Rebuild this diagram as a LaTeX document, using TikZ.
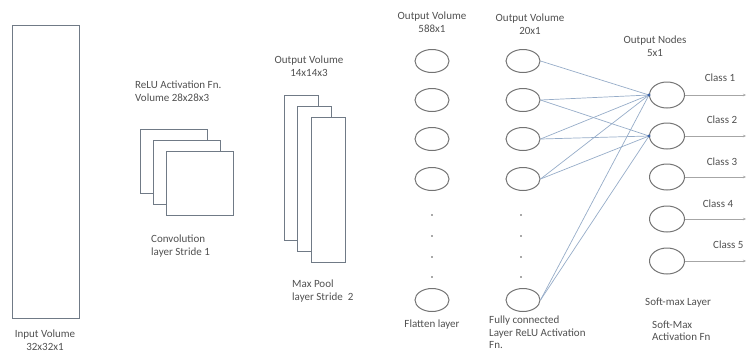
\documentclass[tikz,border=0pt]{standalone}
\usepackage{fontspec}
\setmainfont{Carlito}
\usetikzlibrary{shapes.geometric,arrows.meta}
\definecolor{edgegray}{RGB}{112,122,134}
\definecolor{wiregray}{RGB}{150,172,200}
\definecolor{dotblue}{RGB}{60,100,170}
\definecolor{txtgray}{RGB}{80,80,80}
\begin{document}
\begin{tikzpicture}[x=1pt,y=-1pt,
  lbl/.style={font=\fontsize{11}{12.5}\selectfont,text=txtgray,inner sep=0pt},
  sheet/.style={draw=edgegray,fill=white,line width=0.8pt},
  unit/.style={ellipse,draw=gray!90!black,line width=1pt,minimum width=34pt,minimum height=23pt,inner sep=0pt},
  wire/.style={draw=wiregray,line width=0.7pt}]
\useasboundingbox (0,0) rectangle (747,354);
% input volume
\draw[sheet] (12,25) rectangle (79,318);
% convolution stack
\foreach \i in {0,1,2}{\draw[sheet] (140+13*\i,129+11*\i) rectangle +(67,64);}
% max pool stack
\foreach \i in {0,1,2}{\draw[sheet] (284+13.5*\i,95+11*\i) rectangle +(34,145);}
% flatten and fully connected layers
\foreach \n/\y in {1/61,2/100,3/139,4/179,5/300}{
  \node[unit] (f\n) at (432,\y) {};
  \node[unit] (h\n) at (523,\y) {};}
\foreach \y in {215,236,257,277}{\fill[txtgray] (432,\y) circle (0.9); \fill[txtgray] (521,\y) circle (0.9);}
% soft-max layer
\foreach \n/\y in {1/95,2/136,3/177,4/219,5/261}{
  \node[unit,minimum width=35pt,minimum height=26pt] (o\n) at (667,\y) {};
  \coordinate (e\n) at (746,\y);
  \draw[wire,draw=gray!70,-{Stealth[length=3pt,width=2.5pt]}] (o\n) -- (e\n);}
\foreach \a/\b in {1/1,2/1,2/2,3/1,3/2,4/1,4/2,5/1,5/2}{\draw[wire] (h\a.east) -- (o\b.west);}
\foreach \b in {1,2}{\fill[dotblue] (o\b.west) circle (1.6);}
\foreach \n/\x/\y in {1/720/78,2/722/120,3/722/162,4/718/204}{\node[lbl] (c\n) at (\x,\y) {Class \n};}
\node[lbl,anchor=west] (c5) at (713,245) {Class 5};
% labels
\node[lbl,align=center] (inlbl) at (45,340) {Input Volume\\32x32x1};
\node[lbl,align=left,anchor=west] (convtop) at (135,91) {ReLU Activation Fn.\\Volume 28x28x3};
\node[lbl,align=left,anchor=west] (convbot) at (151,246) {Convolution\\layer Stride 1};
\node[lbl,align=center] (pooltop) at (309,66) {Output Volume\\14x14x3};
\node[lbl,align=left,anchor=west] (poolbot) at (292,291) {Max Pool\\layer Stride~~2};
\node[lbl,align=center] (flattop) at (432,22) {Output Volume\\588x1};
\node[lbl] (flatbot) at (432,325) {Flatten layer};
\node[lbl,align=center] (hidtop) at (530,24) {Output Volume\\20x1};
\node[lbl,align=left,anchor=north west] (hidbot) at (489,316) {Fully connected\\Layer ReLU Activation\\Fn.};
\node[lbl,align=center] (outtop) at (655,46) {Output Nodes\\5x1};
\node[lbl,anchor=west] (smlbl) at (645,303) {Soft-max Layer};
\node[lbl,align=left,anchor=west] (smfn) at (652,331) {Soft-Max\\Activation Fn};
\end{tikzpicture}
\end{document}
